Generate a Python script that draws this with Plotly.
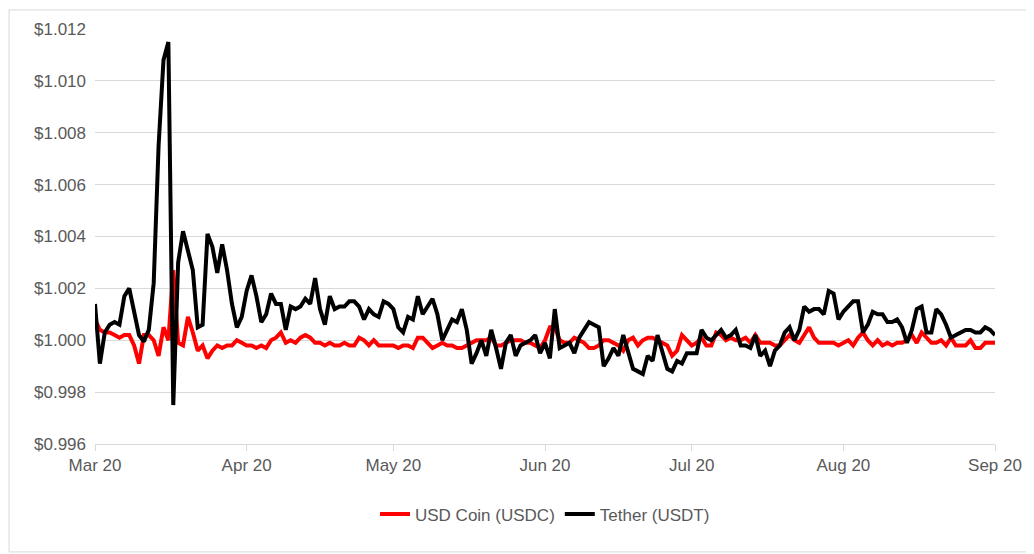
import plotly.graph_objects as go
import pandas as pd

dates = pd.date_range("2020-03-01", "2020-09-01", freq="D")

usdt = [1.0014,0.9991,1.0003,1.0006,1.0007,1.0006,1.0017,1.0020,1.0011,1.0002,
0.99995,1.0004,1.0022,1.0075,1.0108,1.0115,0.9975,1.0030,1.0042,1.0035,
1.0027,1.0005,1.0006,1.0041,1.0036,1.0026,1.0037,1.0027,1.0014,1.0005,
1.0009,1.0019,1.0025,1.0017,1.0007,1.0010,1.0018,1.0014,1.0014,1.0004,
1.0013,1.0012,1.0013,1.0016,1.0014,1.0024,1.0012,1.0006,1.0017,1.0012,
1.0013,1.0013,1.0015,1.0015,1.0013,1.0008,1.0012,1.0010,1.0009,1.0015,
1.0014,1.0012,1.0005,1.0003,1.0009,1.0008,1.0017,1.0010,1.0013,1.0016,
1.0010,1.0000,1.0004,1.0008,1.0007,1.0012,1.0004,0.9991,0.9995,1.0000,
0.9994,1.0004,0.9997,0.9989,0.9999,1.0002,0.9994,0.9998,0.9999,1.0000,
1.0002,0.9995,0.9999,0.9993,1.0012,0.9997,0.9998,0.9999,0.9995,1.0001,
1.0004,1.0007,1.0006,1.0005,0.9990,0.9993,0.9997,0.9994,1.0002,0.9995,
0.9989,0.9988,0.9987,0.9994,0.9992,1.0002,0.9996,0.9989,0.9988,0.9992,
0.9991,0.9995,0.9995,0.9995,1.0004,1.0001,1.0000,1.0002,1.0004,1.0001,
1.0002,1.0004,0.9998,0.9998,0.9997,1.0002,0.9994,0.9996,0.9990,0.9996,
0.9998,1.0003,1.0005,1.0000,1.0004,1.0013,1.0011,1.0012,1.0012,1.0010,
1.0019,1.0018,1.0008,1.0011,1.0013,1.0015,1.0015,1.0003,1.0006,1.0011,
1.0010,1.0010,1.0007,1.0007,1.0008,1.0005,0.9999,1.0004,1.0012,1.0013,
1.0003,1.0003,1.0012,1.0010,1.0006,1.0001,1.0002,1.0003,1.0004,1.0004,
1.0003,1.0003,1.0005,1.0004,1.0002]

usdc = [1.0008,1.0004,1.0003,1.0003,1.0002,1.0001,1.0002,1.0002,0.9998,0.9991,
1.0002,1.0002,1.0000,0.9994,1.0005,1.0000,1.0027,0.9999,0.9998,1.0009,
1.0003,0.9996,0.9998,0.9993,0.9996,0.9998,0.9997,0.9998,0.9998,1.0000,
0.9999,0.9998,0.9998,0.9997,0.9998,0.9997,1.0000,1.0001,1.0003,0.9999,
1.0000,0.9999,1.0001,1.0002,1.0001,0.9999,0.9999,0.9998,0.9999,0.9998,
0.9998,0.9999,0.9998,0.9998,1.0001,1.0000,0.9998,1.0000,0.9998,0.9998,
0.9998,0.9998,0.9997,0.9998,0.9998,0.9997,1.0001,1.0001,0.9999,0.9997,
0.9998,0.9999,0.9998,0.9998,0.9997,0.9997,0.9998,0.9999,1.0000,1.0000,
1.0000,1.0001,0.9998,0.9998,0.9999,1.0000,1.0000,1.0000,0.9999,0.9999,
0.9998,0.9997,1.0000,1.0005,1.0005,1.0000,0.9999,0.9999,1.0001,1.0000,
0.9999,0.9997,0.9997,0.9998,1.0000,1.0000,0.9999,0.9998,0.9996,1.0000,
1.0001,0.9998,1.0000,1.0001,1.0001,1.0000,0.9999,0.9998,0.9994,0.9996,
1.0002,1.0000,0.9998,0.9999,1.0001,0.9998,0.9998,1.0003,1.0002,1.0000,
1.0001,1.0000,1.0000,1.0001,0.9999,1.0002,0.9999,0.9999,0.9999,0.9998,
0.9998,1.0000,1.0002,1.0000,0.9999,1.0002,1.0005,1.0001,0.9999,0.9999,
0.9999,0.9999,0.9998,0.9999,1.0000,0.9998,1.0001,1.0003,1.0000,0.9998,
1.0000,0.9998,0.9999,0.9998,0.9999,0.9999,1.0000,1.0002,0.9999,1.0003,
1.0001,0.9999,0.9999,1.0000,0.9998,1.0001,0.9998,0.9998,0.9998,1.0000,
0.9997,0.9997,0.9999,0.9999,0.9999]

fig = go.Figure()
fig.add_trace(go.Scatter(x=dates, y=usdc, mode="lines", name="USD Coin (USDC)",
                         line=dict(color="#FF0000", width=4)))
fig.add_trace(go.Scatter(x=dates, y=usdt, mode="lines", name="Tether (USDT)",
                         line=dict(color="#000000", width=4)))

fig.update_layout(
    width=1026, height=546,
    margin=dict(l=87, r=37, t=20, b=110),
    paper_bgcolor="white", plot_bgcolor="white",
    font=dict(family="Liberation Sans, Arial", size=17, color="#595959"),
    legend=dict(orientation="h", x=0.5, xanchor="center", y=-0.17, yanchor="middle",
                font=dict(size=17, color="#595959")),
    shapes=[dict(type="rect", xref="paper", yref="paper", x0=-0.0955, x1=1.039,
                 y0=-0.26, y1=1.046, line=dict(color="#D9D9D9", width=1))],
)
fig.update_xaxes(range=["2020-03-01", "2020-09-01"], dtick="M1", tick0="2020-03-01",
                 tickformat="%b %y", showgrid=False, showline=True, linecolor="#D9D9D9",
                 ticks="outside", tickcolor="#D9D9D9", ticklen=6)
fig.update_yaxes(range=[0.996, 1.012], dtick=0.002, tickformat="$.3f",
                 showgrid=True, gridcolor="#D9D9D9", zeroline=False, ticklabelstandoff=8)

fig.write_html("out.html")
